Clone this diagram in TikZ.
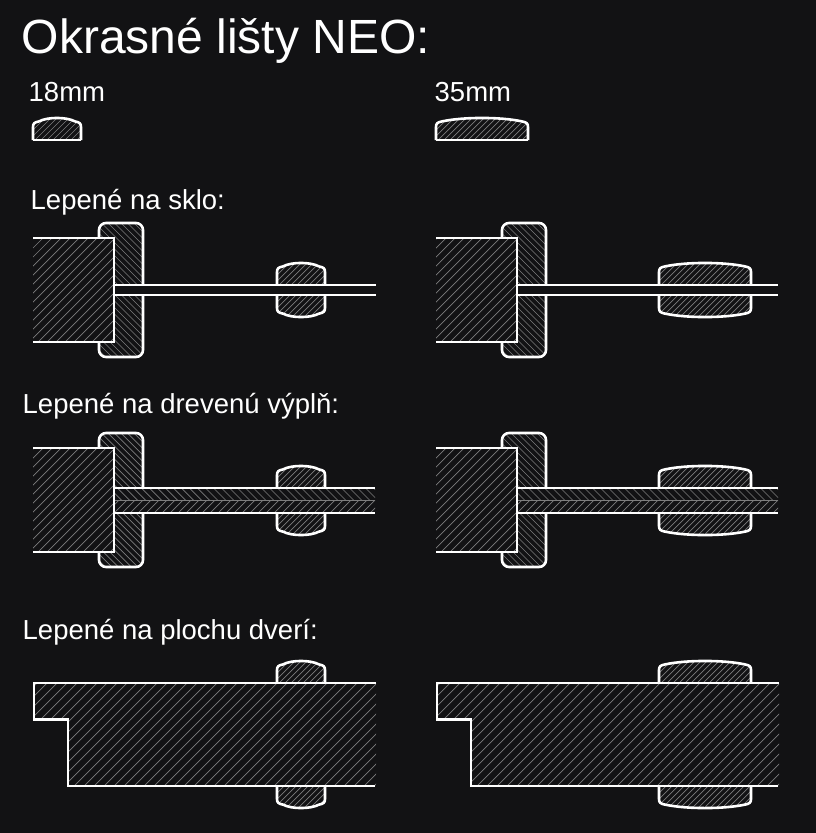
\documentclass[tikz,border=0pt]{standalone}
\usepackage{fontspec}
\setmainfont{Liberation Sans}
\definecolor{bgcol}{RGB}{18,18,20}
\definecolor{hatchcol}{RGB}{125,125,125}

\tikzset{
  outline/.style={draw=white,line width=2.6pt,line join=miter},
  hatchline/.style={draw=hatchcol,line width=0.7pt},
  hatchup/.style={fill=bgcol,path picture={
    \foreach \i in {0,#1,...,800}
      \draw[hatchline] (path picture bounding box.south west) ++(\i-400,0) -- ++(400,-400);}},
  hatchdown/.style={fill=bgcol,path picture={
    \foreach \i in {0,#1,...,800}
      \draw[hatchline] (path picture bounding box.south west) ++(\i,0) -- ++(-400,-400);}},
  title/.style={anchor=base west,inner sep=0pt,text=white,font=\fontsize{48}{52}\selectfont},
  label/.style={anchor=base west,inner sep=0pt,text=white,font=\fontsize{27.5}{32}\selectfont}
}

% outline of a strip: x, width, base y, direction (-1 up, 1 down)
\newcommand{\stripshape}[4]{(#1,#3) -- (#1,#3+#4*13)
    .. controls (#1,#3+#4*16.5) and (#1+1.5,#3+#4*17.8) .. (#1+6,#3+#4*18.6)
    .. controls (#1+#2*0.3,#3+#4*23.2) and (#1+#2*0.7,#3+#4*23.2) .. (#1+#2-6,#3+#4*18.6)
    .. controls (#1+#2-1.5,#3+#4*17.8) and (#1+#2,#3+#4*16.5) .. (#1+#2,#3+#4*13) -- (#1+#2,#3)}
\newcommand{\strip}[4]{
  \path[hatchup=6] \stripshape{#1}{#2}{#3}{#4} -- cycle;
  \draw[outline] \stripshape{#1}{#2}{#3}{#4};
}
% frame and wood: x offset, top of frame
\newcommand{\framewood}[2]{
  \path[hatchdown=6.5] [rounded corners=7pt] (#1+99,#2) rectangle (#1+143,#2+134);
  \draw[outline] [rounded corners=7pt] (#1+99,#2) rectangle (#1+143,#2+134);
  \path[hatchup=9] (#1+33,#2+15) rectangle (#1+114,#2+119);
}
\newcommand{\woodedge}[2]{
  \draw[outline] (#1+33,#2+15) -- (#1+114,#2+15) -- (#1+114,#2+119) -- (#1+33,#2+119);
}

\begin{document}
\begin{tikzpicture}[x=1pt,y=-1pt]
  \useasboundingbox[fill=bgcol] (0,0) rectangle (816,833);

  \node[title] (heading) at (21.5,53) {Okrasné lišty NEO:};
  \node[label] (size18) at (28.5,101) {18mm};
  \node[label] (size35) at (434.5,101) {35mm};
  \node[label] (rowglass) at (30.5,209) {Lepené na sklo:};
  \node[label] (rowpanel) at (22.5,413) {Lepené na drevenú výplň:};
  \node[label] (rowdoor) at (22.5,639) {Lepené na plochu dverí:};

  % profiles
  \strip{33}{48}{140}{-1}
  \draw[outline] (33,140) -- (81,140);
  \strip{436}{92}{140}{-1}
  \draw[outline] (436,140) -- (528,140);

  % glass
  \framewood{0}{223}
  \fill[bgcol] (114,286) rectangle (376,294);
  \woodedge{0}{223}
  \strip{277}{48}{285}{-1}
  \strip{277}{48}{295}{1}
  \draw[outline] (114,285) -- (376,285) (114,295) -- (376,295);

  \framewood{403}{223}
  \fill[bgcol] (517,286) rectangle (778,294);
  \woodedge{403}{223}
  \strip{659}{92}{285}{-1}
  \strip{659}{92}{295}{1}
  \draw[outline] (517,285) -- (778,285) (517,295) -- (778,295);

  % panel
  \framewood{0}{433}
  \path[hatchdown=8] (114,488) rectangle (375,500.5);
  \path[hatchup=8] (114,500.5) rectangle (375,513);
  \draw[hatchline,line width=1pt] (114,500.5) -- (375,500.5);
  \woodedge{0}{433}
  \strip{277}{48}{488}{-1}
  \strip{277}{48}{513}{1}
  \draw[outline] (114,488) -- (375,488) (114,513) -- (375,513);

  \framewood{403}{433}
  \path[hatchdown=8] (517,488) rectangle (778,500.5);
  \path[hatchup=8] (517,500.5) rectangle (778,513);
  \draw[hatchline,line width=1pt] (517,500.5) -- (778,500.5);
  \woodedge{403}{433}
  \strip{659}{92}{488}{-1}
  \strip{659}{92}{513}{1}
  \draw[outline] (517,488) -- (778,488) (517,513) -- (778,513);

  % door leaf
  \strip{277}{48}{683}{-1}
  \strip{277}{48}{786}{1}
  \path[hatchup=10] (34,683) -- (376,683) -- (376,786) -- (68,786) -- (68,719.5) -- (34,719.5) -- cycle;
  \draw[outline] (376,683) -- (34,683) -- (34,719.5) -- (68,719.5) -- (68,786) -- (375,786);

  \strip{659}{92}{683}{-1}
  \strip{659}{92}{786}{1}
  \path[hatchup=10] (437,683) -- (779,683) -- (779,786) -- (471,786) -- (471,719.5) -- (437,719.5) -- cycle;
  \draw[outline] (779,683) -- (437,683) -- (437,719.5) -- (471,719.5) -- (471,786) -- (778,786);
\end{tikzpicture}
\end{document}
